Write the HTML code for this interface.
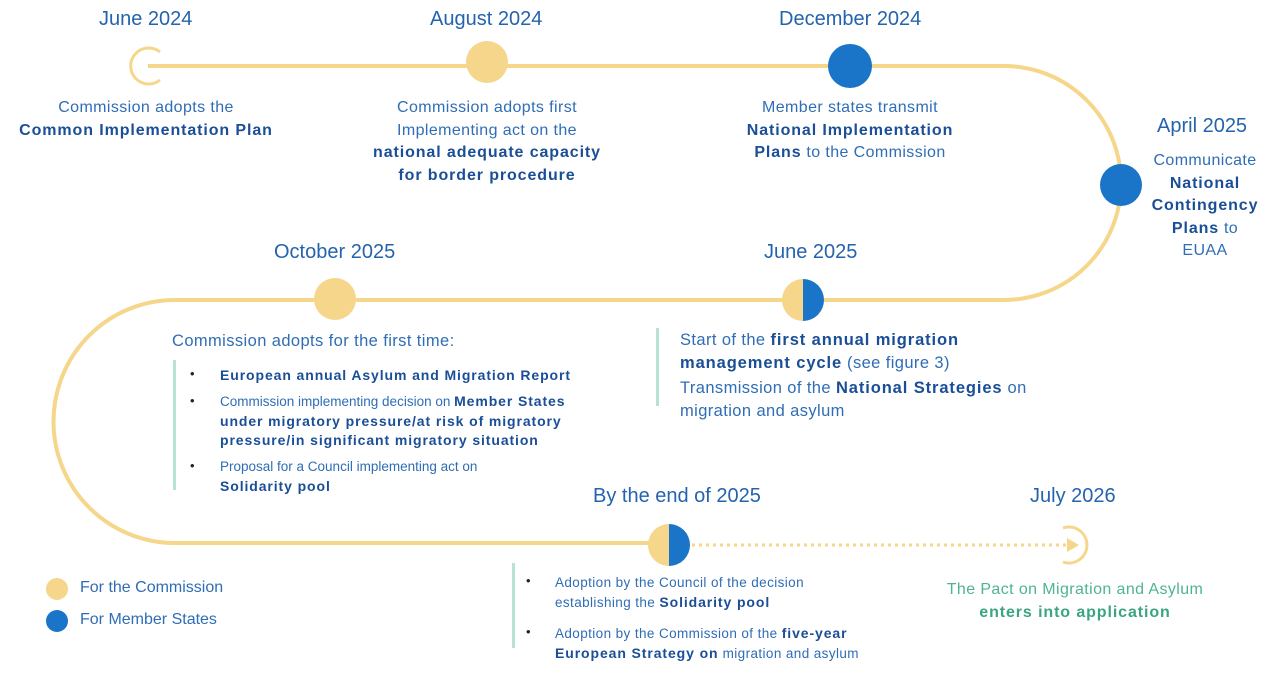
<!DOCTYPE html>
<html><head><meta charset="utf-8"><style>
body{margin:0;width:1280px;height:673px;background:#fff;position:relative;overflow:hidden;font-family:"Liberation Sans",sans-serif;color:#2f6db5}
.t{position:absolute;white-space:nowrap}
.d{font-size:20px;color:#2463ad}
.c{text-align:center;font-size:16px;line-height:22.5px;letter-spacing:0.4px}
b{color:#1a4e96;letter-spacing:0.9px}
.m{font-size:16.5px;line-height:22.5px;letter-spacing:0.4px}
.s{font-size:13.5px;line-height:19.5px}
.s b{font-size:14px;letter-spacing:0.9px}
.dot{position:absolute;font-size:13px;color:#222}
.v{position:absolute;width:3px;background:#b9e2d3}
</style></head><body>
<svg width="1280" height="673" style="position:absolute;left:0;top:0">
<g fill="none" stroke="#f5d68a" stroke-width="4">
<path d="M148 66 H1004 A117 117 0 0 1 1004 300 H175 A121.5 121.5 0 0 0 175 543 H650"/>
<path d="M692 545 H1066" stroke-dasharray="3 4" stroke-width="3"/>
<path d="M160 52 A18 18 0 1 0 160 80" stroke-width="3"/>
<path d="M1063 528 A18 18 0 1 1 1063 562" stroke-width="3"/>
</g>
<polygon points="1067,538 1079,545 1067,552" fill="#f5d68a"/>
<circle cx="487" cy="62" r="21" fill="#f5d68a"/>
<circle cx="850" cy="66" r="22" fill="#1a75c9"/>
<circle cx="1121" cy="185" r="21" fill="#1a75c9"/>
<circle cx="335" cy="299" r="21" fill="#f5d68a"/>
<path d="M803 279 A21 21 0 0 0 803 321Z" fill="#f5d68a"/><path d="M803 279 A21 21 0 0 1 803 321Z" fill="#1a75c9"/>
<path d="M669 524 A21 21 0 0 0 669 566Z" fill="#f5d68a"/><path d="M669 524 A21 21 0 0 1 669 566Z" fill="#1a75c9"/>
<circle cx="57" cy="589" r="11" fill="#f5d68a"/>
<circle cx="57" cy="621" r="11" fill="#1a75c9"/>
</svg>
<div class="t d" style="left:99px;top:8px">June 2024</div>
<div class="t d" style="left:430px;top:8px">August 2024</div>
<div class="t d" style="left:779px;top:8px">December 2024</div>
<div class="t d" style="left:1157px;top:115px">April 2025</div>
<div class="t d" style="left:274px;top:241px">October 2025</div>
<div class="t d" style="left:764px;top:241px">June 2025</div>
<div class="t d" style="left:593px;top:485px">By the end of 2025</div>
<div class="t d" style="left:1030px;top:485px">July 2026</div>
<div class="t c" style="left:0;width:292px;top:97px">Commission adopts the<br><b>Common Implementation Plan</b></div>
<div class="t c" style="left:337px;width:300px;top:97px">Commission adopts first<br>Implementing act on the<br><b>national adequate capacity<br>for border procedure</b></div>
<div class="t c" style="left:700px;width:300px;top:97px">Member states transmit<br><b>National Implementation<br>Plans</b> to the Commission</div>
<div class="t c" style="left:1140px;width:130px;top:150px">Communicate<br><b>National<br>Contingency<br>Plans</b> to<br>EUAA</div>
<div class="t m" style="left:172px;top:330px">Commission adopts for the first time:</div>
<div class="v" style="left:173px;top:360px;height:130px"></div>
<div class="dot" style="left:190px;top:366px">•</div>
<div class="dot" style="left:190px;top:393px">•</div>
<div class="dot" style="left:190px;top:458px">•</div>
<div class="t s" style="left:220px;top:366px"><b>European annual Asylum and Migration Report</b></div>
<div class="t s" style="left:220px;top:392px">Commission implementing decision on <b>Member States<br>under migratory pressure/at risk of migratory<br>pressure/in significant migratory situation</b></div>
<div class="t s" style="left:220px;top:457px">Proposal for a Council implementing act on<br><b>Solidarity pool</b></div>
<div class="v" style="left:656px;top:328px;height:78px"></div>
<div class="t m" style="left:680px;top:329px">Start of the <b>first annual migration<br>management cycle</b> (see figure 3)</div>
<div class="t m" style="left:680px;top:377px">Transmission of the <b>National Strategies</b> on<br>migration and asylum</div>
<div class="t" style="left:80px;top:579px;font-size:16px">For the Commission</div>
<div class="t" style="left:80px;top:611px;font-size:16px">For Member States</div>
<div class="v" style="left:512px;top:563px;height:85px"></div>
<div class="dot" style="left:526px;top:573px">•</div>
<div class="dot" style="left:526px;top:624px">•</div>
<div class="t s" style="left:555px;top:573px;letter-spacing:0.4px">Adoption by the Council of the decision<br>establishing the <b>Solidarity pool</b></div>
<div class="t s" style="left:555px;top:624px;letter-spacing:0.4px">Adoption by the Commission of the <b>five-year<br>European Strategy on</b> migration and asylum</div>
<div class="t c" style="left:920px;width:310px;top:579px;color:#4fb394">The Pact on Migration and Asylum<br><b style="color:#3aa57f">enters into application</b></div>
</body></html>
